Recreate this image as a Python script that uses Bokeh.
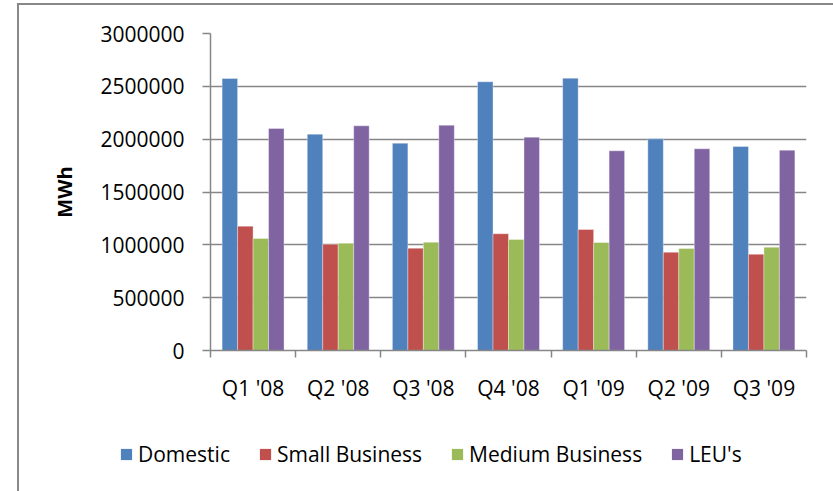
from bokeh.plotting import figure
from bokeh.layouts import column
from bokeh.models import (ColumnDataSource, FixedTicker, Legend, LegendItem,
                          Range1d, NumeralTickFormatter, InlineStyleSheet)
from bokeh.transform import dodge
from bokeh.embed import file_html
from bokeh.resources import INLINE

# Quarterly electricity consumption by customer segment (MWh)
quarters = ["Q1 '08", "Q2 '08", "Q3 '08", "Q4 '08", "Q1 '09", "Q2 '09", "Q3 '09"]
domestic = [2574000, 2047000, 1962000, 2543000, 2577000, 2003000, 1931000]
small_business = [1177000, 1005000, 968000, 1105000, 1145000, 930000, 911000]
medium_business = [1060000, 1014000, 1025000, 1050000, 1022000, 965000, 978000]
leus = [2101000, 2126000, 2132000, 2019000, 1890000, 1909000, 1896000]

series = [
    ("Domestic", "domestic", domestic, "#4F81BD"),
    ("Small Business", "small", small_business, "#C0504D"),
    ("Medium Business", "medium", medium_business, "#9BBB59"),
    ("LEU's", "leus", leus, "#8064A2"),
]

centers = [i + 0.5 for i in range(len(quarters))]
data = {"pos": centers}
for _, key, vals, _c in series:
    data[key] = vals
src = ColumnDataSource(data)

FONT = "Open Sans"
GRAY = "#868686"
W = 833
H_MAIN = 420
H_LEG = 491 - H_MAIN

p = figure(width=W, height=H_MAIN,
           x_range=Range1d(0, len(quarters)), y_range=Range1d(0, 3000000),
           output_backend="svg", toolbar_location=None,
           min_border_left=210, min_border_right=27,
           min_border_top=33, min_border_bottom=H_MAIN - 350)
p.outline_line_color = None
p.background_fill_color = "white"
p.border_fill_color = "white"
p.frame_align = False

# Bars: 4 per quarter, gap between groups of 1.5 bar widths
bar_w = 1 / 5.5
for j, (label, key, vals, color) in enumerate(series):
    off = (j - 1.5) * bar_w
    p.vbar(x=dodge("pos", off, range=p.x_range), top=key, width=bar_w,
           source=src, fill_color=color, line_color="white",
           line_alpha=0.35, line_width=1)

# Y axis
p.yaxis.ticker = FixedTicker(ticks=[0, 500000, 1000000, 1500000, 2000000, 2500000, 3000000])
p.yaxis.formatter = NumeralTickFormatter(format="0")
p.yaxis.axis_line_color = GRAY
p.yaxis.axis_line_width = 1.5
p.yaxis.major_tick_line_color = GRAY
p.yaxis.major_tick_line_width = 1.5
p.yaxis.major_tick_out = 8
p.yaxis.major_tick_in = 0
p.yaxis.minor_tick_line_color = None
p.yaxis.major_label_text_font = FONT
p.yaxis.major_label_text_font_size = "21px"
p.yaxis.major_label_text_color = "black"
p.yaxis.major_label_standoff = 18
p.yaxis.axis_label = "MWh"
p.yaxis.axis_label_text_font = FONT
p.yaxis.axis_label_text_font_size = "20px"
p.yaxis.axis_label_text_font_style = "bold"
p.yaxis.axis_label_text_color = "black"
p.yaxis.axis_label_standoff = 19

# X axis: labels at group centres, tick marks at group boundaries
p.xaxis.ticker = FixedTicker(ticks=centers, minor_ticks=list(range(len(quarters) + 1)))
p.xaxis.major_label_overrides = {c: q for c, q in zip(centers, quarters)}
p.xaxis.axis_line_color = GRAY
p.xaxis.axis_line_width = 1.5
p.xaxis.major_tick_line_color = None
p.xaxis.major_tick_out = 0
p.xaxis.major_tick_in = 0
p.xaxis.minor_tick_line_color = GRAY
p.xaxis.minor_tick_line_width = 1.5
p.xaxis.minor_tick_out = 7
p.xaxis.minor_tick_in = 0
p.xaxis.major_label_text_font = FONT
p.xaxis.major_label_text_font_size = "21px"
p.xaxis.major_label_text_color = "black"
p.xaxis.major_label_standoff = 16

p.xgrid.visible = False
p.ygrid.grid_line_color = GRAY
p.ygrid.grid_line_width = 1.5

# Legend strip below the chart (its own full-width frame)
leg = figure(width=W, height=H_LEG, x_range=Range1d(0, W), y_range=Range1d(0, H_LEG),
             output_backend="svg", toolbar_location=None,
             x_axis_type=None, y_axis_type=None,
             min_border=0, min_border_left=0, min_border_right=0,
             min_border_top=0, min_border_bottom=0)
leg.outline_line_color = None
leg.grid.visible = False
leg.background_fill_color = "white"
leg.border_fill_color = "white"
leg.frame_align = False

items = []
for label, key, vals, color in series:
    # off-range swatch renderer, only used for the legend key
    proxy = leg.vbar(x=[-1000], top=[0], width=1, fill_color=color, line_color=None)
    items.append(LegendItem(label=label, renderers=[proxy]))

legend = Legend(items=items, orientation="horizontal", location=(119, 23),
                glyph_width=14, glyph_height=14, label_standoff=5, spacing=28,
                padding=0, margin=0, border_line_color=None,
                background_fill_alpha=0, label_text_font=FONT,
                label_text_font_size="21px", label_text_color="black")
leg.add_layout(legend)

layout = column(p, leg, spacing=0)
# Outer chart-area frame drawn over the whole page
layout.stylesheets = [InlineStyleSheet(css="""
:host { position: relative; }
:host::after {
  content: ""; position: absolute; left: 17px; top: 3px;
  width: 900px; height: 600px; border: 2px solid #888888;
  pointer-events: none; box-sizing: border-box;
}
""")]

open("out.html", "w").write(file_html(layout, INLINE))
